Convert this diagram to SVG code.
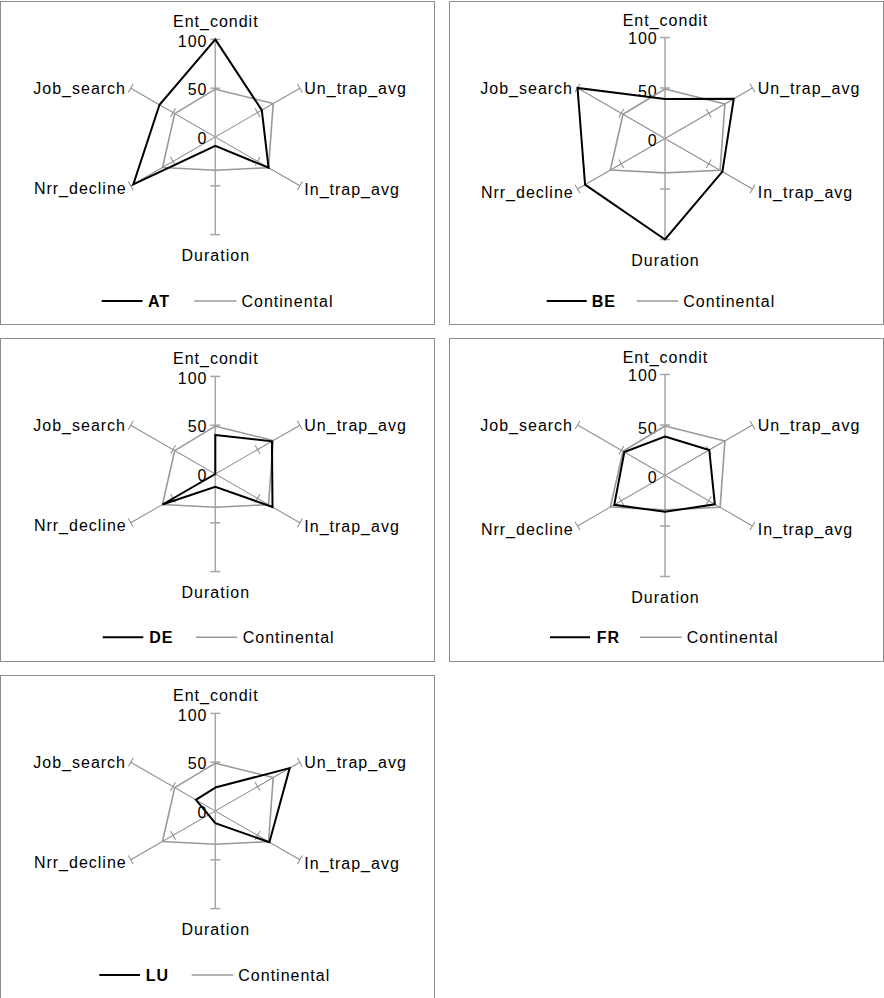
<svg xmlns="http://www.w3.org/2000/svg" xmlns:xlink="http://www.w3.org/1999/xlink" width="884" height="998" viewBox="0 0 884 998">
<style>
.frame{fill:#fff;stroke:#8c8c8c;stroke-width:1}
.vax{stroke:#a6a6a6;stroke-width:1.5;fill:none}
.dax{stroke:#8c8c8c;stroke-width:1;fill:none}
.cont{fill:none;stroke:#999;stroke-width:1.6;stroke-linejoin:round}
.ctry{fill:none;stroke:#000;stroke-width:2;stroke-linejoin:miter}
.lgk{stroke:#000;stroke-width:2}
.lgc{stroke:#999;stroke-width:1.6}
text{font-family:"Liberation Sans",Arial,sans-serif;font-size:16px;letter-spacing:1px;fill:#000}
.m{text-anchor:middle}
.e{text-anchor:end}
.b{font-weight:bold}
</style>
<defs>
<g id="spokesA">
<g class="dax" transform="rotate(60)"><line x1="0" y1="-97.6" x2="0" y2="97.6"/><line x1="-5" y1="-97.6" x2="5" y2="-97.6"/><line x1="-5" y1="-48.8" x2="5" y2="-48.8"/><line x1="-5" y1="48.8" x2="5" y2="48.8"/><line x1="-5" y1="97.6" x2="5" y2="97.6"/></g>
<g class="dax" transform="rotate(120)"><line x1="0" y1="-97.6" x2="0" y2="97.6"/><line x1="-5" y1="-97.6" x2="5" y2="-97.6"/><line x1="-5" y1="-48.8" x2="5" y2="-48.8"/><line x1="-5" y1="48.8" x2="5" y2="48.8"/><line x1="-5" y1="97.6" x2="5" y2="97.6"/></g>
<g class="vax"><line x1="0" y1="-97.6" x2="0" y2="97.6"/><line x1="-5" y1="-97.6" x2="5" y2="-97.6"/><line x1="-5" y1="-48.8" x2="5" y2="-48.8"/><line x1="-5" y1="48.8" x2="5" y2="48.8"/><line x1="-5" y1="97.6" x2="5" y2="97.6"/></g>
</g>
<g id="spokesB">
<g class="dax" transform="rotate(60)"><line x1="0" y1="-101" x2="0" y2="101"/><line x1="-5" y1="-101" x2="5" y2="-101"/><line x1="-5" y1="-50.5" x2="5" y2="-50.5"/><line x1="-5" y1="50.5" x2="5" y2="50.5"/><line x1="-5" y1="101" x2="5" y2="101"/></g>
<g class="dax" transform="rotate(120)"><line x1="0" y1="-101" x2="0" y2="101"/><line x1="-5" y1="-101" x2="5" y2="-101"/><line x1="-5" y1="-50.5" x2="5" y2="-50.5"/><line x1="-5" y1="50.5" x2="5" y2="50.5"/><line x1="-5" y1="101" x2="5" y2="101"/></g>
<g class="vax"><line x1="0" y1="-101" x2="0" y2="101"/><line x1="-5" y1="-101" x2="5" y2="-101"/><line x1="-5" y1="-50.5" x2="5" y2="-50.5"/><line x1="-5" y1="50.5" x2="5" y2="50.5"/><line x1="-5" y1="101" x2="5" y2="101"/></g>
</g>
</defs>

<!-- Panel AT -->
<g id="chart-AT">
<rect class="frame" x="0.5" y="1.5" width="434" height="323"/>
<use xlink:href="#spokesA" href="#spokesA" x="215.3" y="137"/>
<text class="m" x="215.8" y="26.5">Ent_condit</text>
<text class="e" x="207.5" y="46.5">100</text>
<text class="e" x="207.5" y="95">50</text>
<text class="e" x="207.5" y="144">0</text>
<text class="e" x="126" y="93.5">Job_search</text>
<text x="304.3" y="93.5">Un_trap_avg</text>
<text class="e" x="126.7" y="194.3">Nrr_decline</text>
<text x="304.3" y="194.5">In_trap_avg</text>
<text class="m" x="215.8" y="261">Duration</text>
<g id="series-AT">
<polygon class="cont" points="215.3,89.18 273.2,103.57 268.55,167.74 215.3,170.18 162.47,167.5 174.73,113.58"/>
<polygon class="ctry" points="215.3,39.4 261.79,110.16 268.55,167.74 215.3,145.78 133.31,184.34 159.51,104.79"/>
</g>
<g id="legend-AT">
<line class="lgk" x1="101.7" y1="301" x2="142.5" y2="301"/>
<text class="b" x="148" y="306.7">AT</text>
<line class="lgc" x1="194.3" y1="301" x2="236.5" y2="301"/>
<text x="241.5" y="306.7">Continental</text>
</g>
</g>

<!-- Panel BE -->
<g id="chart-BE">
<rect class="frame" x="449.5" y="1.5" width="434" height="323"/>
<use xlink:href="#spokesB" href="#spokesB" x="665" y="138.5"/>
<text class="m" x="665.5" y="25.5">Ent_condit</text>
<text class="e" x="657.7" y="44.3">100</text>
<text class="e" x="657.7" y="96.5">50</text>
<text class="e" x="657.7" y="145.5">0</text>
<text class="e" x="573" y="94">Job_search</text>
<text x="757.7" y="94">Un_trap_avg</text>
<text class="e" x="573.7" y="198.3">Nrr_decline</text>
<text x="757.7" y="198.3">In_trap_avg</text>
<text class="m" x="665.5" y="265.5">Duration</text>
<g id="series-BE">
<polygon class="cont" points="665,89.01 724.92,103.91 720.11,170.32 665,172.84 610.33,170.06 623.02,114.26"/>
<polygon class="ctry" points="665,99.11 733.75,98.81 722.38,171.63 665,239.5 585.06,184.66 577.53,88"/>
</g>
<g id="legend-BE">
<line class="lgk" x1="546.7" y1="301" x2="586.7" y2="301"/>
<text class="b" x="591.7" y="306.7">BE</text>
<line class="lgc" x1="636.7" y1="301" x2="678.3" y2="301"/>
<text x="683.3" y="306.7">Continental</text>
</g>
</g>

<!-- Panel DE -->
<g id="chart-DE" transform="translate(0,337)">
<rect class="frame" x="0.5" y="1.5" width="434" height="323"/>
<use xlink:href="#spokesA" href="#spokesA" x="215.3" y="137"/>
<text class="m" x="215.8" y="26.5">Ent_condit</text>
<text class="e" x="207.5" y="46.5">100</text>
<text class="e" x="207.5" y="95">50</text>
<text class="e" x="207.5" y="144">0</text>
<text class="e" x="126" y="93.5">Job_search</text>
<text x="304.3" y="93.5">Un_trap_avg</text>
<text class="e" x="126.7" y="194.3">Nrr_decline</text>
<text x="304.3" y="194.5">In_trap_avg</text>
<text class="m" x="215.8" y="261">Duration</text>
<g id="series-DE">
<polygon class="cont" points="215.3,89.18 273.2,103.57 268.55,167.74 215.3,170.18 162.47,167.5 174.73,113.58"/>
<polygon class="ctry" points="215.3,97.96 271.93,104.3 272.52,170.04 215.3,149.69 162.47,167.5 215.3,137"/>
</g>
<g id="legend-DE">
<line class="lgk" x1="102.7" y1="300.3" x2="143.3" y2="300.3"/>
<text class="b" x="149.3" y="306.3">DE</text>
<line class="lgc" x1="196" y1="300.3" x2="237.3" y2="300.3"/>
<text x="242.7" y="306.3">Continental</text>
</g>
</g>

<!-- Panel FR -->
<g id="chart-FR" transform="translate(0,337)">
<rect class="frame" x="449.5" y="1.5" width="434" height="323"/>
<use xlink:href="#spokesB" href="#spokesB" x="665" y="138.5"/>
<text class="m" x="665.5" y="25.5">Ent_condit</text>
<text class="e" x="657.7" y="44.3">100</text>
<text class="e" x="657.7" y="96.5">50</text>
<text class="e" x="657.7" y="145.5">0</text>
<text class="e" x="573" y="94">Job_search</text>
<text x="757.7" y="94">Un_trap_avg</text>
<text class="e" x="573.7" y="198.3">Nrr_decline</text>
<text x="757.7" y="198.3">In_trap_avg</text>
<text class="m" x="665.5" y="265.5">Duration</text>
<g id="series-FR">
<polygon class="cont" points="665,89.01 724.92,103.91 720.11,170.32 665,172.84 610.33,170.06 623.02,114.26"/>
<polygon class="ctry" points="665,99.51 709.26,112.95 714.86,167.29 665,174.86 614.27,167.79 624.33,115.02"/>
</g>
<g id="legend-FR">
<line class="lgk" x1="550" y1="300.3" x2="590" y2="300.3"/>
<text class="b" x="596.7" y="306.3">FR</text>
<line class="lgc" x1="640" y1="300.3" x2="681.7" y2="300.3"/>
<text x="686.7" y="306.3">Continental</text>
</g>
</g>

<!-- Panel LU -->
<g id="chart-LU" transform="translate(0,674)">
<rect class="frame" x="0.5" y="1.5" width="434" height="340"/>
<use xlink:href="#spokesA" href="#spokesA" x="215.3" y="137"/>
<text class="m" x="215.8" y="26.5">Ent_condit</text>
<text class="e" x="207.5" y="46.5">100</text>
<text class="e" x="207.5" y="95">50</text>
<text class="e" x="207.5" y="144">0</text>
<text class="e" x="126" y="93.5">Job_search</text>
<text x="304.3" y="93.5">Un_trap_avg</text>
<text class="e" x="126.7" y="194.3">Nrr_decline</text>
<text x="304.3" y="194.5">In_trap_avg</text>
<text class="m" x="215.8" y="261">Duration</text>
<g id="series-LU">
<polygon class="cont" points="215.3,89.18 273.2,103.57 268.55,167.74 215.3,170.18 162.47,167.5 174.73,113.58"/>
<polygon class="ctry" points="215.3,113.58 289.68,94.06 269.39,168.23 215.3,149.2 208.54,140.9 195.86,125.78"/>
</g>
<g id="legend-LU">
<line class="lgk" x1="99.3" y1="301" x2="140" y2="301"/>
<text class="b" x="145.7" y="307">LU</text>
<line class="lgc" x1="191.7" y1="301" x2="233.3" y2="301"/>
<text x="238.3" y="307">Continental</text>
</g>
</g>
</svg>
